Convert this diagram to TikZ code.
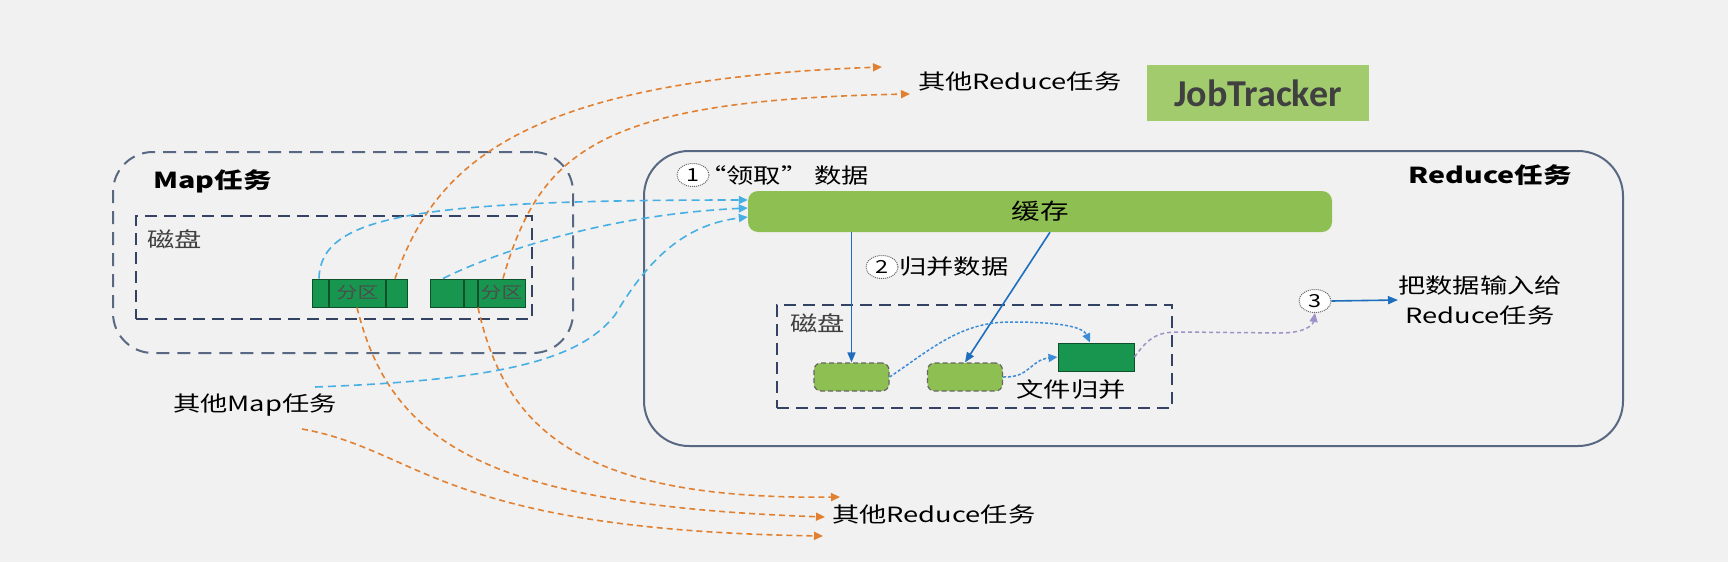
\documentclass[tikz,border=0pt]{standalone}
\usepackage{fontspec}
\setmainfont{Noto Sans CJK SC}[FakeStretch=1.3]
\newfontfamily\jtfont{Carlito}
\usetikzlibrary{arrows.meta,shapes.geometric}
\definecolor{bgc}{RGB}{241,241,241}
\definecolor{boxline}{RGB}{88,104,130}
\definecolor{diskline}{RGB}{52,66,100}
\definecolor{barg}{RGB}{142,191,82}
\definecolor{jtg}{RGB}{162,203,110}
\definecolor{jttext}{RGB}{64,64,64}
\definecolor{dkg}{RGB}{24,150,80}
\definecolor{dkgline}{RGB}{14,80,42}
\definecolor{bluea}{RGB}{30,110,190}
\definecolor{blueb}{RGB}{60,140,215}
\definecolor{cyana}{RGB}{70,175,228}
\definecolor{orangea}{RGB}{226,128,50}
\definecolor{purplea}{RGB}{160,145,200}
\begin{document}
\begin{tikzpicture}[x=1pt,y=-1pt,
  lbl/.style={inner sep=0pt, font=\fontsize{21}{25}\selectfont},
  boldlbl/.style={inner sep=0pt, font=\fontsize{22}{26}\selectfont\bfseries},
  dashbox/.style={draw=diskline, line width=2.2pt, dash pattern=on 12pt off 7pt, inner sep=0pt},
  part/.style={draw=dkgline, line width=1pt, fill=dkg, inner sep=0pt, minimum width=95pt, minimum height=28pt},
  smallg/.style={draw=black!60, line width=1.2pt, dash pattern=on 5pt off 3pt, fill=barg, rounded corners=7pt, inner sep=0pt, minimum width=75pt, minimum height=28pt},
  numc/.style={ellipse, draw=black!60, densely dotted, line width=1pt, fill=white, inner sep=0pt, minimum width=32pt, minimum height=23pt, font=\fontsize{18}{18}\selectfont},
  oarr/.style={draw=orangea, line width=1.6pt, dash pattern=on 6pt off 4pt, -{Triangle[length=9pt,width=8pt]}},
  carr/.style={draw=cyana, line width=1.6pt, dash pattern=on 8pt off 5pt, -{Triangle[length=9pt,width=8pt]}},
  barr/.style={draw=bluea, line width=1.6pt, -{Triangle[length=10pt,width=8pt]}},
  darr/.style={draw=blueb, line width=1.5pt, dash pattern=on 3pt off 2pt, -{Triangle[length=9pt,width=8pt]}},
  parr/.style={draw=purplea, line width=1.5pt, dash pattern=on 4pt off 3pt, -{Triangle[length=9pt,width=8pt]}}
]
\useasboundingbox (0,0) rectangle (1728,562);
\fill[bgc] (0,0) rectangle (1728,562);

% containers
\node[draw=boxline, line width=2pt, dash pattern=on 13pt off 8pt, rounded corners=40pt, inner sep=0pt,
      minimum width=460pt, minimum height=201pt] (maptask) at (343,252.5) {};
\node[dashbox, minimum width=396pt, minimum height=103pt] (mapdisk) at (334,267.5) {};
\node[draw=boxline, line width=2pt, rounded corners=45pt, inner sep=0pt,
      minimum width=979pt, minimum height=295pt] (redtask) at (1133.5,298.5) {};
\node[dashbox, minimum width=395pt, minimum height=103pt] (reddisk) at (974.5,356.5) {};

% labels
\node[boldlbl, anchor=west] (maplbl) at (153,181) {Map任务};
\node[lbl, anchor=west, text=black!75] (mapdisklbl) at (147,239) {磁盘};
\node[boldlbl, anchor=east] (redlbl) at (1572,175) {Reduce任务};
\node[lbl, anchor=west, text=black!75] (reddisklbl) at (790,323) {磁盘};
\node[lbl, anchor=west] (othermap) at (173,405) {其他Map任务};
\node[lbl, anchor=west] (othertop) at (918,82) {其他Reduce任务};
\node[lbl, anchor=west] (otherbot) at (832,515) {其他Reduce任务};

% JobTracker
\node[fill=jtg, inner sep=0pt, minimum width=222pt, minimum height=56pt,
      font=\jtfont\fontsize{38}{40}\selectfont\bfseries, text=jttext] (jt) at (1258,93) {JobTracker};

% partitions
\node[part] (part1) at (359.5,293) {};
\draw[dkgline, line width=1.2pt] (329,279) -- (329,307) (386,279) -- (386,307);
\node[lbl, font=\fontsize{16}{16}\selectfont, text=black!70] (p1txt) at (357.5,293) {分区};
\node[part] (part2) at (477.5,293) {};
\draw[dkgline, line width=1.2pt] (464,279) -- (464,307) (478,279) -- (478,307);
\node[lbl, font=\fontsize{16}{16}\selectfont, text=black!70] (p2txt) at (501.5,293) {分区};

% reduce side
\node[fill=barg, rounded corners=10pt, inner sep=0pt, minimum width=584pt, minimum height=41pt,
      font=\fontsize{22}{26}\selectfont] (bar) at (1040,211.5) {缓存};
\node[numc] (c1) at (693,175) {1};
\node[lbl, anchor=west] (t1) at (699,175) {“领取” 数据};
\node[numc] (c2) at (882,267) {2};
\node[lbl, anchor=west] (t2) at (899,267) {归并数据};
\node[smallg] (g1) at (851.5,377) {};
\node[smallg] (g2) at (965,377) {};
\node[draw=dkgline, line width=1pt, fill=dkg, inner sep=0pt, minimum width=76pt, minimum height=28pt] (dark) at (1096,357) {};
\node[lbl] (merge) at (1071,390) {文件归并};
\node[numc] (c3) at (1315,301) {3};
\node[lbl, align=center, anchor=west, font=\fontsize{21}{30}\selectfont] (outtxt) at (1398,300) {把数据输入给\\Reduce任务};

% tip coordinates
\coordinate (tT1) at (882,67);
\coordinate (tT2) at (910,94);
\coordinate (tB1) at (825,517);
\coordinate (tB2) at (840,497);
\coordinate (tB3) at (823,536);
\coordinate (omA) at (315,387);
\coordinate (omB) at (302,429);

% orange
\draw[oarr] ([xshift=35.5pt]part1.north) .. controls (435,165) and (520,80) .. (tT1);
\draw[oarr] ([xshift=25.5pt]part2.north) .. controls (540,150) and (600,100) .. (tT2);
\draw[oarr] ([xshift=-2.5pt]part1.south) .. controls (390,440) and (480,505) .. (tB1);
\draw[oarr] ([xshift=0.5pt]part2.south) .. controls (505,430) and (580,500) .. (tB2);
\draw[oarr] (omB) .. controls (420,450) and (440,530) .. (tB3);

% cyan
\draw[carr] ([xshift=-40.5pt]part1.north) .. controls (320,215) and (420,200) .. ([yshift=11.5pt]bar.west);
\draw[carr] ([xshift=-34.5pt]part2.north) .. controls (490,255) and (600,215) .. ([yshift=3.5pt]bar.west);
\draw[carr] (omA) .. controls (500,380) and (580,360) .. (615,315) .. controls (645,265) and (680,225) .. ([yshift=-5.5pt]bar.west);

% blue
\draw[barr] (bar.south -| g1.north) -- (g1.north);
\draw[barr] ([xshift=10pt]bar.south) -- (g2.north);
\draw[darr] (g1.east) .. controls (930,350) and (960,322) .. (1010,322) .. controls (1050,322) and (1082,325) .. ([xshift=-6pt]dark.north);
\draw[darr] (g2.east) .. controls (1030,378) and (1030,360) .. (dark.west);
\draw[parr] (dark.east) .. controls (1150,335) and (1160,332) .. (1180,332) -- (1280,333) .. controls (1305,333) and (1313,325) .. (c3.south);
\draw[barr] (c3.east) -- (outtxt.west);
\end{tikzpicture}
\end{document}
